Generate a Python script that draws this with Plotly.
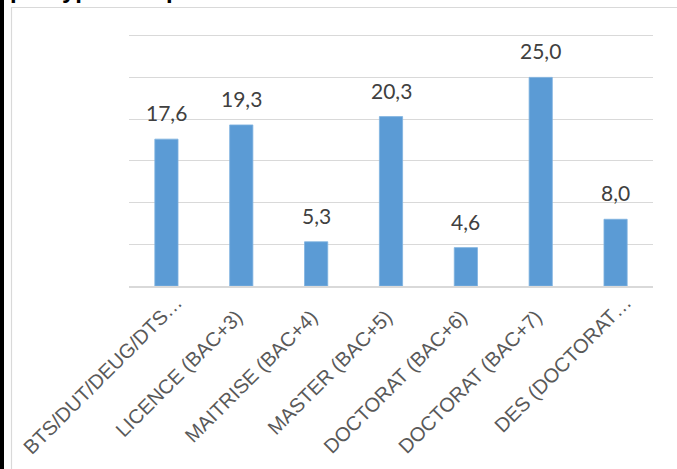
import plotly.graph_objects as go

categories = ["BTS/DUT/DEUG/DTS…", "LICENCE (BAC+3)", "MAITRISE (BAC+4)", "MASTER (BAC+5)",
              "DOCTORAT (BAC+6)", "DOCTORAT (BAC+7)", "DES (DOCTORAT…"]
values = [17.6, 19.3, 5.3, 20.3, 4.6, 25.0, 8.0]
title_text = "par type de diplôme"

W, H = 677, 469
ml, mr, mt, mb = 129, 24, 34, 183
pw, ph = W - ml - mr, H - mt - mb

def px_to_xpaper(px):
    return (px - ml) / pw

def px_to_ypaper(py):
    return (H - mb - py) / ph

# non-truncated labels are padded at the end (as in the source chart)
pad = "\u00a0\u00a0\u00a0\u2009"
tick_text = [c if c.endswith("…") else c + pad for c in categories]

fig = go.Figure()
fig.add_trace(go.Bar(
    x=categories, y=values,
    marker=dict(color="#5B9BD5", line=dict(color="#7FB2E0", width=0.8)),
    hoverinfo="skip",
))

annotations = []
for c, v in zip(categories, values):
    annotations.append(dict(
        x=c, y=v, xref="x", yref="y",
        text=f"{v:.1f}".replace(".", ","),
        showarrow=False, yanchor="bottom", yshift=12,
        font=dict(family="Lato", size=21, color="#404040"),
    ))

annotations.append(dict(
    x=px_to_xpaper(8), y=px_to_ypaper(5), xref="paper", yref="paper",
    xanchor="left", yanchor="bottom", showarrow=False,
    text=f"<b>{title_text}</b>",
    font=dict(family="Liberation Sans", size=24, color="#000000"),
))

shapes = [
    dict(type="line", xref="paper", yref="paper",
         x0=px_to_xpaper(11), x1=px_to_xpaper(W + 5),
         y0=px_to_ypaper(7.5), y1=px_to_ypaper(7.5),
         line=dict(color="#D9D9D9", width=1.2), layer="above"),
    dict(type="line", xref="paper", yref="paper",
         x0=px_to_xpaper(11.5), x1=px_to_xpaper(11.5),
         y0=px_to_ypaper(7), y1=px_to_ypaper(H + 5),
         line=dict(color="#D9D9D9", width=1.2), layer="above"),
    dict(type="rect", xref="paper", yref="paper",
         x0=px_to_xpaper(-5), x1=px_to_xpaper(4),
         y0=px_to_ypaper(H + 20), y1=px_to_ypaper(-20),
         line=dict(width=0), fillcolor="#000000"),
]

fig.update_layout(
    width=W, height=H,
    margin=dict(l=ml, r=mr, t=mt, b=mb, autoexpand=False),
    paper_bgcolor="white", plot_bgcolor="white",
    bargap=0.69,
    showlegend=False,
    annotations=annotations,
    shapes=shapes,
    xaxis=dict(
        tickmode="array", tickvals=categories, ticktext=tick_text,
        tickangle=-45, tickfont=dict(family="Liberation Sans", size=20, color="#595959"),
        showgrid=False, showline=True, linecolor="#D9D9D9", linewidth=1.5,
        ticks="", automargin=False, ticklabelstandoff=-5, ticklabelshift=10,
    ),
    yaxis=dict(
        range=[0, 30.2], dtick=5, showticklabels=False, showgrid=True,
        gridcolor="#D9D9D9", gridwidth=1, zeroline=False, automargin=False,
    ),
)

fig.write_html("out.html", config={"displayModeBar": False},
               post_script="document.body.style.margin='0';document.body.style.padding='0';")
